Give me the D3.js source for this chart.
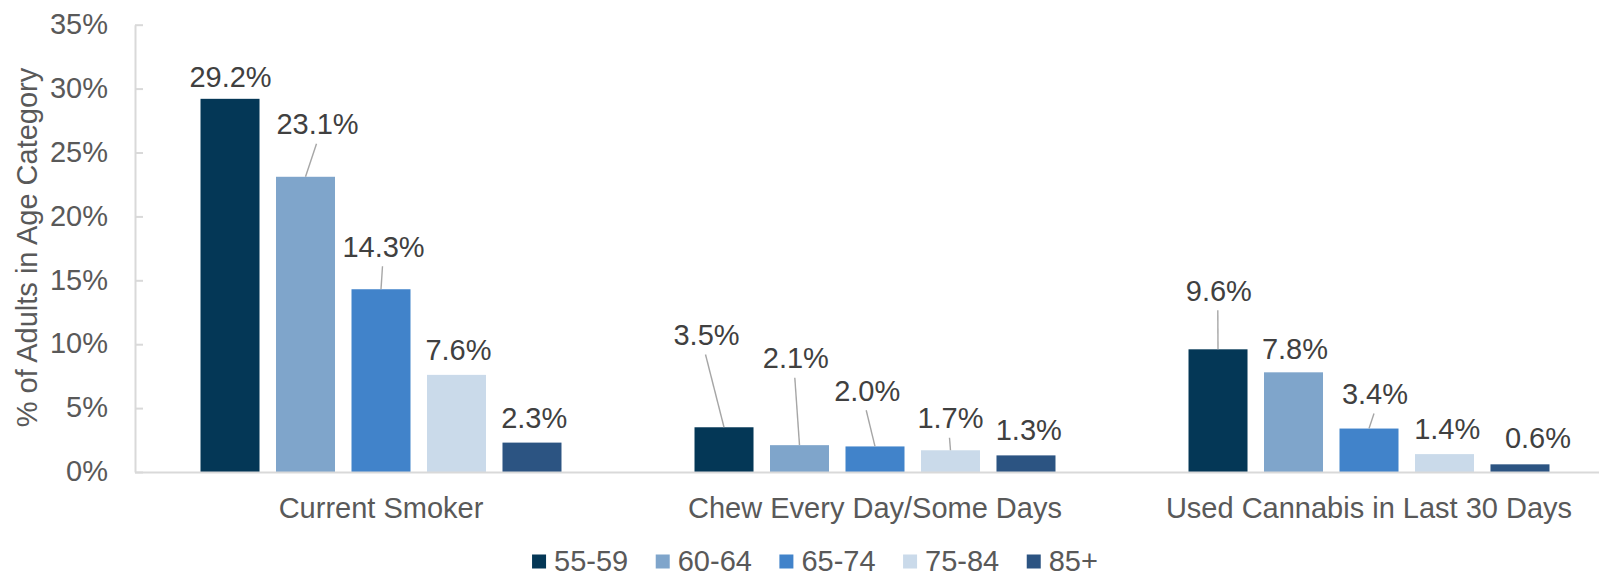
<!DOCTYPE html>
<html>
<head>
<meta charset="utf-8">
<script src="https://cdn.jsdelivr.net/npm/d3@7"></script>
<style>
  html, body { margin: 0; padding: 0; background: #fff; }
  svg { display: block; font-family: "Liberation Sans", Arial, sans-serif; }
</style>
</head>
<body>
<svg id="chart" width="1599" height="577"></svg>
<script>
// ---- data ----
const categories = ["Current Smoker", "Chew Every Day/Some Days", "Used Cannabis in Last 30 Days"];
const ageGroups = ["55-59", "60-64", "65-74", "75-84", "85+"];
const s55to59 = [29.2, 3.5, 9.6];
const s60to64 = [23.1, 2.1, 7.8];
const s65to74 = [14.3, 2.0, 3.4];
const s75to84 = [7.6, 1.7, 1.4];
const s85plus = [2.3, 1.3, 0.6];
const yTickValues = [0, 5, 10, 15, 20, 25, 30, 35];

// ---- styling / layout ----
const seriesColors = ["#043756", "#7fa5cb", "#4183ca", "#cadaea", "#2c5482"];
const fontSize = 29;
const axisGrey = "#d9d9d9";
const tickTextColor = "#595959";
const labelTextColor = "#404040";
// hand-placed label offsets [dx, dy] from bar centre / bar top, per category then series
const labelShift = [
  [[0.5, -11.5], [12, -42.5], [2.5, -32.5], [2, -15], [2.2, -15]],
  [[-17.5, -82.3], [-3.7, -76.9], [-7.8, -45.7], [0, -22], [2.8, -15.4]],
  [[0.8, -48.6], [1.5, -13], [6, -24.5], [2.7, -15.1], [18, -16]]
];

const seriesValues = [s55to59, s60to64, s65to74, s75to84, s85plus];
const rows = [];
categories.forEach((cat, ci) => {
  ageGroups.forEach((ag, si) => {
    rows.push({ cat, ci, ag, si, value: seriesValues[si][ci] });
  });
});

const svg = d3.select("#chart");

const y = d3.scaleLinear().domain([0, 35]).range([472, 24.7]);
const x0 = d3.scaleBand().domain(categories).range([134, 1616]).padding(0);
const x1 = d3.scaleBand().domain(ageGroups)
  .range([0, x0.bandwidth()]).paddingInner(0.2185).paddingOuter(0.881);

// y axis (ticks point inward, labels on the left)
const yAxis = d3.axisLeft(y)
  .tickValues(yTickValues)
  .tickFormat(d => d + "%")
  .tickSize(-8)
  .tickSizeOuter(0)
  .tickPadding(27);

const gy = svg.append("g").attr("transform", "translate(135,0)").call(yAxis);
gy.select(".domain").attr("stroke", axisGrey).attr("stroke-width", 2);
gy.selectAll(".tick line").attr("stroke", axisGrey).attr("stroke-width", 2);
gy.selectAll(".tick text")
  .attr("fill", tickTextColor)
  .attr("font-size", fontSize)
  .attr("font-family", "Liberation Sans, Arial, sans-serif")
  .attr("dy", "0.3em");

// y axis title
svg.append("text")
  .attr("transform", "translate(36.5,247.5) rotate(-90)")
  .attr("text-anchor", "middle")
  .attr("fill", tickTextColor)
  .attr("font-size", fontSize)
  .text("% of Adults in Age Category");

// bars
const bars = svg.append("g");
bars.selectAll("rect")
  .data(rows)
  .join("rect")
  .attr("x", d => x0(d.cat) + x1(d.ag))
  .attr("y", d => y(d.value))
  .attr("width", x1.bandwidth())
  .attr("height", d => y(0) - y(d.value))
  .attr("fill", d => seriesColors[d.si]);

// baseline
svg.append("line")
  .attr("x1", 135).attr("x2", 1599)
  .attr("y1", y(0) + 0.5).attr("y2", y(0) + 0.5)
  .attr("stroke", axisGrey).attr("stroke-width", 2);

// data labels with leader lines where a label sits away from its bar
const lbl = svg.append("g");
rows.forEach(d => {
  const cx = x0(d.cat) + x1(d.ag) + x1.bandwidth() / 2;
  const top = y(d.value);
  const [dx, dy] = labelShift[d.ci][d.si];
  const lx = cx + dx, ly = top + dy;
  if (top - (ly + 9.5) > 10) {
    lbl.append("line")
      .attr("x1", lx - 1).attr("y1", ly + 9.5)
      .attr("x2", cx).attr("y2", top)
      .attr("stroke", "#a6a6a6").attr("stroke-width", 1.4);
  }
  lbl.append("text")
    .attr("x", lx).attr("y", ly)
    .attr("text-anchor", "middle")
    .attr("fill", labelTextColor)
    .attr("font-size", fontSize)
    .text(d3.format(".1f")(d.value) + "%");
});

// category labels
svg.append("g").selectAll("text")
  .data(categories)
  .join("text")
  .attr("x", d => x0(d) + x0.bandwidth() / 2)
  .attr("y", 517.5)
  .attr("text-anchor", "middle")
  .attr("fill", tickTextColor)
  .attr("font-size", fontSize)
  .text(d => d);

// legend, centred below the chart
const legend = svg.append("g");
const items = legend.selectAll("g")
  .data(ageGroups)
  .join("g");
items.append("rect")
  .attr("width", 14).attr("height", 14)
  .attr("y", 554.5)
  .attr("fill", (d, i) => seriesColors[i]);
items.append("text")
  .attr("x", 22).attr("y", 571)
  .attr("fill", tickTextColor)
  .attr("font-size", fontSize)
  .text(d => d);
let cursor = 0;
const offsets = [];
items.each(function () {
  const w = d3.select(this).select("text").node().getComputedTextLength();
  offsets.push(cursor);
  cursor += 22 + w + 27.5;
});
const totalW = cursor - 27.5;
const startX = 815 - totalW / 2;
items.attr("transform", (d, i) => `translate(${startX + offsets[i]},0)`);
</script>
</body>
</html>
